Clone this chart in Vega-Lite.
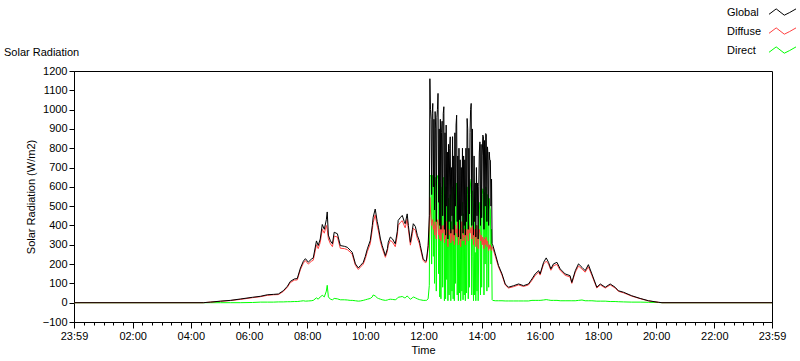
{
  "$schema": "https://vega.github.io/schema/vega-lite/v6.json",
  "width": 698,
  "height": 251,
  "autosize": {"type": "none"},
  "padding": {"left": 74, "top": 71, "right": 28, "bottom": 39},
  "background": "white",
  "config": {
    "font": "Liberation Sans",
    "view": {"stroke": "black", "strokeWidth": 1},
    "axis": {"labelColor": "black", "titleColor": "black", "domainColor": "black", "tickColor": "black", "grid": false, "labelFontSize": 11, "titleFontSize": 11, "titleFontWeight": "normal", "labelFont": "Liberation Sans", "titleFont": "Liberation Sans"}
  },
  "title": {"text": "Solar Radiation", "anchor": "start", "frame": "group", "dx": -70, "offset": 15, "dy": 79, "fontSize": 11, "fontWeight": "normal", "color": "black", "font": "Liberation Sans", "baseline": "alphabetic"},
  "data": {
    "values": [
      {"t": -0.0167, "Global": 0, "Diffuse": 0, "Direct": 0},
      {"t": 4.43, "Global": 0, "Diffuse": 0, "Direct": 0},
      {"t": 4.67, "Global": 3, "Diffuse": 3, "Direct": 0},
      {"t": 5.02, "Global": 8, "Diffuse": 7, "Direct": 0},
      {"t": 5.36, "Global": 12, "Diffuse": 11, "Direct": 0},
      {"t": 5.70, "Global": 19, "Diffuse": 17, "Direct": 0},
      {"t": 6.12, "Global": 28, "Diffuse": 26, "Direct": 1},
      {"t": 6.39, "Global": 33, "Diffuse": 31, "Direct": 3},
      {"t": 6.63, "Global": 41, "Diffuse": 38, "Direct": 3},
      {"t": 6.84, "Global": 43, "Diffuse": 41, "Direct": 3},
      {"t": 7.01, "Global": 45, "Diffuse": 42, "Direct": 4},
      {"t": 7.18, "Global": 62, "Diffuse": 58, "Direct": 4},
      {"t": 7.32, "Global": 85, "Diffuse": 80, "Direct": 5},
      {"t": 7.42, "Global": 110, "Diffuse": 104, "Direct": 5},
      {"t": 7.56, "Global": 123, "Diffuse": 117, "Direct": 6},
      {"t": 7.66, "Global": 125, "Diffuse": 118, "Direct": 6},
      {"t": 7.77, "Global": 180, "Diffuse": 172, "Direct": 8},
      {"t": 7.87, "Global": 215, "Diffuse": 205, "Direct": 10},
      {"t": 7.94, "Global": 228, "Diffuse": 218, "Direct": 8},
      {"t": 8.04, "Global": 210, "Diffuse": 200, "Direct": 9},
      {"t": 8.14, "Global": 225, "Diffuse": 214, "Direct": 10},
      {"t": 8.21, "Global": 232, "Diffuse": 220, "Direct": 12},
      {"t": 8.32, "Global": 320, "Diffuse": 300, "Direct": 25},
      {"t": 8.38, "Global": 296, "Diffuse": 280, "Direct": 18},
      {"t": 8.45, "Global": 330, "Diffuse": 312, "Direct": 30},
      {"t": 8.52, "Global": 405, "Diffuse": 380, "Direct": 38},
      {"t": 8.59, "Global": 380, "Diffuse": 360, "Direct": 30},
      {"t": 8.66, "Global": 430, "Diffuse": 400, "Direct": 60},
      {"t": 8.69, "Global": 470, "Diffuse": 380, "Direct": 90},
      {"t": 8.73, "Global": 350, "Diffuse": 330, "Direct": 30},
      {"t": 8.80, "Global": 320, "Diffuse": 305, "Direct": 18},
      {"t": 8.87, "Global": 305, "Diffuse": 290, "Direct": 15},
      {"t": 8.93, "Global": 365, "Diffuse": 345, "Direct": 22},
      {"t": 9.04, "Global": 357, "Diffuse": 340, "Direct": 20},
      {"t": 9.14, "Global": 296, "Diffuse": 282, "Direct": 15},
      {"t": 9.28, "Global": 292, "Diffuse": 280, "Direct": 15},
      {"t": 9.38, "Global": 287, "Diffuse": 275, "Direct": 14},
      {"t": 9.48, "Global": 272, "Diffuse": 262, "Direct": 12},
      {"t": 9.55, "Global": 261, "Diffuse": 250, "Direct": 12},
      {"t": 9.66, "Global": 201, "Diffuse": 193, "Direct": 10},
      {"t": 9.76, "Global": 180, "Diffuse": 172, "Direct": 8},
      {"t": 9.83, "Global": 192, "Diffuse": 184, "Direct": 9},
      {"t": 9.93, "Global": 209, "Diffuse": 200, "Direct": 12},
      {"t": 10.00, "Global": 240, "Diffuse": 228, "Direct": 15},
      {"t": 10.07, "Global": 279, "Diffuse": 265, "Direct": 18},
      {"t": 10.17, "Global": 322, "Diffuse": 305, "Direct": 22},
      {"t": 10.24, "Global": 400, "Diffuse": 378, "Direct": 30},
      {"t": 10.27, "Global": 443, "Diffuse": 415, "Direct": 40},
      {"t": 10.34, "Global": 485, "Diffuse": 455, "Direct": 35},
      {"t": 10.41, "Global": 420, "Diffuse": 398, "Direct": 25},
      {"t": 10.45, "Global": 391, "Diffuse": 372, "Direct": 22},
      {"t": 10.52, "Global": 330, "Diffuse": 315, "Direct": 18},
      {"t": 10.58, "Global": 296, "Diffuse": 283, "Direct": 15},
      {"t": 10.69, "Global": 244, "Diffuse": 235, "Direct": 12},
      {"t": 10.76, "Global": 280, "Diffuse": 268, "Direct": 14},
      {"t": 10.79, "Global": 313, "Diffuse": 298, "Direct": 16},
      {"t": 10.86, "Global": 340, "Diffuse": 322, "Direct": 18},
      {"t": 10.93, "Global": 331, "Diffuse": 315, "Direct": 17},
      {"t": 11.03, "Global": 305, "Diffuse": 290, "Direct": 15},
      {"t": 11.10, "Global": 370, "Diffuse": 350, "Direct": 22},
      {"t": 11.13, "Global": 426, "Diffuse": 400, "Direct": 28},
      {"t": 11.20, "Global": 440, "Diffuse": 415, "Direct": 30},
      {"t": 11.27, "Global": 452, "Diffuse": 425, "Direct": 32},
      {"t": 11.34, "Global": 420, "Diffuse": 398, "Direct": 26},
      {"t": 11.37, "Global": 409, "Diffuse": 388, "Direct": 25},
      {"t": 11.44, "Global": 460, "Diffuse": 432, "Direct": 35},
      {"t": 11.48, "Global": 400, "Diffuse": 380, "Direct": 28},
      {"t": 11.55, "Global": 313, "Diffuse": 298, "Direct": 18},
      {"t": 11.62, "Global": 380, "Diffuse": 358, "Direct": 25},
      {"t": 11.65, "Global": 409, "Diffuse": 385, "Direct": 30},
      {"t": 11.72, "Global": 395, "Diffuse": 375, "Direct": 25},
      {"t": 11.79, "Global": 348, "Diffuse": 332, "Direct": 20},
      {"t": 11.86, "Global": 320, "Diffuse": 305, "Direct": 16},
      {"t": 11.89, "Global": 296, "Diffuse": 282, "Direct": 15},
      {"t": 11.99, "Global": 227, "Diffuse": 218, "Direct": 12},
      {"t": 12.06, "Global": 215, "Diffuse": 208, "Direct": 12},
      {"t": 12.10, "Global": 218, "Diffuse": 210, "Direct": 12},
      {"t": 12.16, "Global": 296, "Diffuse": 280, "Direct": 20},
      {"t": 12.20, "Global": 450, "Diffuse": 400, "Direct": 90},
      {"t": 12.22, "Global": 1160, "Diffuse": 545, "Direct": 655},
      {"t": 12.24, "Global": 1000, "Diffuse": 480, "Direct": 660},
      {"t": 12.26, "Global": 950, "Diffuse": 440, "Direct": 650},
      {"t": 12.28, "Global": 560, "Diffuse": 400, "Direct": 200},
      {"t": 12.30, "Global": 980, "Diffuse": 420, "Direct": 640},
      {"t": 12.32, "Global": 1032, "Diffuse": 430, "Direct": 660},
      {"t": 12.34, "Global": 600, "Diffuse": 380, "Direct": 240},
      {"t": 12.36, "Global": 950, "Diffuse": 400, "Direct": 620},
      {"t": 12.38, "Global": 480, "Diffuse": 350, "Direct": 100},
      {"t": 12.40, "Global": 990, "Diffuse": 420, "Direct": 650},
      {"t": 12.42, "Global": 900, "Diffuse": 380, "Direct": 600},
      {"t": 12.44, "Global": 420, "Diffuse": 330, "Direct": 60},
      {"t": 12.46, "Global": 960, "Diffuse": 400, "Direct": 640},
      {"t": 12.48, "Global": 1000, "Diffuse": 420, "Direct": 650},
      {"t": 12.50, "Global": 1084, "Diffuse": 430, "Direct": 660},
      {"t": 12.52, "Global": 520, "Diffuse": 350, "Direct": 150},
      {"t": 12.54, "Global": 900, "Diffuse": 380, "Direct": 600},
      {"t": 12.56, "Global": 400, "Diffuse": 330, "Direct": 30},
      {"t": 12.58, "Global": 950, "Diffuse": 420, "Direct": 620},
      {"t": 12.60, "Global": 380, "Diffuse": 320, "Direct": 20},
      {"t": 12.62, "Global": 880, "Diffuse": 380, "Direct": 560},
      {"t": 12.64, "Global": 940, "Diffuse": 400, "Direct": 600},
      {"t": 12.66, "Global": 450, "Diffuse": 360, "Direct": 80},
      {"t": 12.68, "Global": 980, "Diffuse": 380, "Direct": 640},
      {"t": 12.70, "Global": 1015, "Diffuse": 400, "Direct": 650},
      {"t": 12.72, "Global": 380, "Diffuse": 310, "Direct": 10},
      {"t": 12.74, "Global": 880, "Diffuse": 380, "Direct": 560},
      {"t": 12.76, "Global": 350, "Diffuse": 330, "Direct": 20},
      {"t": 12.78, "Global": 920, "Diffuse": 420, "Direct": 600},
      {"t": 12.80, "Global": 500, "Diffuse": 360, "Direct": 120},
      {"t": 12.82, "Global": 780, "Diffuse": 340, "Direct": 500},
      {"t": 12.84, "Global": 330, "Diffuse": 290, "Direct": 10},
      {"t": 12.86, "Global": 820, "Diffuse": 380, "Direct": 540},
      {"t": 12.88, "Global": 420, "Diffuse": 350, "Direct": 40},
      {"t": 12.90, "Global": 800, "Diffuse": 360, "Direct": 520},
      {"t": 12.92, "Global": 859, "Diffuse": 380, "Direct": 560},
      {"t": 12.94, "Global": 360, "Diffuse": 310, "Direct": 10},
      {"t": 12.96, "Global": 700, "Diffuse": 360, "Direct": 420},
      {"t": 12.98, "Global": 450, "Diffuse": 380, "Direct": 60},
      {"t": 13.00, "Global": 860, "Diffuse": 340, "Direct": 600},
      {"t": 13.02, "Global": 380, "Diffuse": 320, "Direct": 20},
      {"t": 13.04, "Global": 760, "Diffuse": 380, "Direct": 460},
      {"t": 13.06, "Global": 350, "Diffuse": 300, "Direct": 10},
      {"t": 13.08, "Global": 880, "Diffuse": 380, "Direct": 560},
      {"t": 13.10, "Global": 500, "Diffuse": 400, "Direct": 100},
      {"t": 13.12, "Global": 920, "Diffuse": 360, "Direct": 600},
      {"t": 13.14, "Global": 971, "Diffuse": 380, "Direct": 620},
      {"t": 13.16, "Global": 420, "Diffuse": 340, "Direct": 40},
      {"t": 13.18, "Global": 760, "Diffuse": 420, "Direct": 420},
      {"t": 13.20, "Global": 340, "Diffuse": 300, "Direct": 10},
      {"t": 13.22, "Global": 800, "Diffuse": 380, "Direct": 500},
      {"t": 13.24, "Global": 430, "Diffuse": 360, "Direct": 50},
      {"t": 13.26, "Global": 740, "Diffuse": 330, "Direct": 480},
      {"t": 13.28, "Global": 330, "Diffuse": 290, "Direct": 10},
      {"t": 13.30, "Global": 700, "Diffuse": 380, "Direct": 380},
      {"t": 13.32, "Global": 450, "Diffuse": 420, "Direct": 60},
      {"t": 13.34, "Global": 800, "Diffuse": 360, "Direct": 520},
      {"t": 13.36, "Global": 360, "Diffuse": 320, "Direct": 15},
      {"t": 13.38, "Global": 760, "Diffuse": 350, "Direct": 460},
      {"t": 13.40, "Global": 400, "Diffuse": 340, "Direct": 40},
      {"t": 13.42, "Global": 740, "Diffuse": 380, "Direct": 420},
      {"t": 13.44, "Global": 350, "Diffuse": 300, "Direct": 10},
      {"t": 13.46, "Global": 800, "Diffuse": 360, "Direct": 500},
      {"t": 13.48, "Global": 420, "Diffuse": 350, "Direct": 50},
      {"t": 13.50, "Global": 954, "Diffuse": 380, "Direct": 600},
      {"t": 13.52, "Global": 900, "Diffuse": 360, "Direct": 560},
      {"t": 13.54, "Global": 380, "Diffuse": 320, "Direct": 20},
      {"t": 13.56, "Global": 800, "Diffuse": 400, "Direct": 480},
      {"t": 13.58, "Global": 460, "Diffuse": 380, "Direct": 80},
      {"t": 13.60, "Global": 880, "Diffuse": 360, "Direct": 560},
      {"t": 13.62, "Global": 1000, "Diffuse": 380, "Direct": 620},
      {"t": 13.64, "Global": 1032, "Diffuse": 390, "Direct": 640},
      {"t": 13.66, "Global": 400, "Diffuse": 330, "Direct": 40},
      {"t": 13.68, "Global": 900, "Diffuse": 360, "Direct": 580},
      {"t": 13.70, "Global": 620, "Diffuse": 400, "Direct": 240},
      {"t": 13.72, "Global": 350, "Diffuse": 300, "Direct": 10},
      {"t": 13.74, "Global": 760, "Diffuse": 380, "Direct": 440},
      {"t": 13.76, "Global": 420, "Diffuse": 340, "Direct": 40},
      {"t": 13.78, "Global": 620, "Diffuse": 380, "Direct": 260},
      {"t": 13.80, "Global": 340, "Diffuse": 290, "Direct": 10},
      {"t": 13.82, "Global": 700, "Diffuse": 360, "Direct": 400},
      {"t": 13.84, "Global": 450, "Diffuse": 400, "Direct": 60},
      {"t": 13.86, "Global": 620, "Diffuse": 340, "Direct": 340},
      {"t": 13.88, "Global": 330, "Diffuse": 280, "Direct": 10},
      {"t": 13.90, "Global": 600, "Diffuse": 360, "Direct": 300},
      {"t": 13.92, "Global": 780, "Diffuse": 380, "Direct": 480},
      {"t": 13.94, "Global": 833, "Diffuse": 360, "Direct": 520},
      {"t": 13.96, "Global": 400, "Diffuse": 320, "Direct": 40},
      {"t": 13.98, "Global": 820, "Diffuse": 350, "Direct": 520},
      {"t": 14.00, "Global": 440, "Diffuse": 330, "Direct": 80},
      {"t": 14.02, "Global": 760, "Diffuse": 300, "Direct": 560},
      {"t": 14.04, "Global": 868, "Diffuse": 340, "Direct": 590},
      {"t": 14.06, "Global": 860, "Diffuse": 320, "Direct": 580},
      {"t": 14.08, "Global": 380, "Diffuse": 280, "Direct": 40},
      {"t": 14.10, "Global": 840, "Diffuse": 330, "Direct": 570},
      {"t": 14.12, "Global": 500, "Diffuse": 300, "Direct": 200},
      {"t": 14.14, "Global": 876, "Diffuse": 340, "Direct": 600},
      {"t": 14.16, "Global": 870, "Diffuse": 330, "Direct": 590},
      {"t": 14.18, "Global": 420, "Diffuse": 290, "Direct": 60},
      {"t": 14.20, "Global": 807, "Diffuse": 320, "Direct": 560},
      {"t": 14.22, "Global": 760, "Diffuse": 300, "Direct": 520},
      {"t": 14.24, "Global": 400, "Diffuse": 270, "Direct": 80},
      {"t": 14.26, "Global": 780, "Diffuse": 300, "Direct": 540},
      {"t": 14.28, "Global": 740, "Diffuse": 280, "Direct": 500},
      {"t": 14.30, "Global": 738, "Diffuse": 300, "Direct": 480},
      {"t": 14.32, "Global": 500, "Diffuse": 280, "Direct": 200},
      {"t": 14.34, "Global": 640, "Diffuse": 270, "Direct": 380},
      {"t": 14.36, "Global": 305, "Diffuse": 290, "Direct": 15},
      {"t": 14.38, "Global": 300, "Diffuse": 285, "Direct": 12},
      {"t": 14.47, "Global": 253, "Diffuse": 240, "Direct": 10},
      {"t": 14.58, "Global": 192, "Diffuse": 185, "Direct": 10},
      {"t": 14.70, "Global": 149, "Diffuse": 142, "Direct": 10},
      {"t": 14.81, "Global": 97, "Diffuse": 92, "Direct": 9},
      {"t": 14.92, "Global": 80, "Diffuse": 76, "Direct": 9},
      {"t": 15.10, "Global": 88, "Diffuse": 83, "Direct": 9},
      {"t": 15.27, "Global": 97, "Diffuse": 92, "Direct": 9},
      {"t": 15.44, "Global": 88, "Diffuse": 84, "Direct": 9},
      {"t": 15.61, "Global": 97, "Diffuse": 92, "Direct": 9},
      {"t": 15.73, "Global": 123, "Diffuse": 116, "Direct": 12},
      {"t": 15.84, "Global": 149, "Diffuse": 141, "Direct": 12},
      {"t": 15.96, "Global": 166, "Diffuse": 158, "Direct": 12},
      {"t": 16.01, "Global": 149, "Diffuse": 143, "Direct": 12},
      {"t": 16.13, "Global": 209, "Diffuse": 200, "Direct": 14},
      {"t": 16.22, "Global": 232, "Diffuse": 215, "Direct": 16},
      {"t": 16.30, "Global": 209, "Diffuse": 200, "Direct": 14},
      {"t": 16.38, "Global": 175, "Diffuse": 168, "Direct": 12},
      {"t": 16.47, "Global": 201, "Diffuse": 192, "Direct": 12},
      {"t": 16.59, "Global": 209, "Diffuse": 198, "Direct": 12},
      {"t": 16.70, "Global": 175, "Diffuse": 167, "Direct": 10},
      {"t": 16.87, "Global": 149, "Diffuse": 142, "Direct": 10},
      {"t": 17.04, "Global": 140, "Diffuse": 133, "Direct": 10},
      {"t": 17.10, "Global": 105, "Diffuse": 100, "Direct": 10},
      {"t": 17.22, "Global": 166, "Diffuse": 158, "Direct": 10},
      {"t": 17.33, "Global": 201, "Diffuse": 190, "Direct": 12},
      {"t": 17.45, "Global": 183, "Diffuse": 174, "Direct": 14},
      {"t": 17.56, "Global": 166, "Diffuse": 158, "Direct": 10},
      {"t": 17.67, "Global": 197, "Diffuse": 186, "Direct": 10},
      {"t": 17.79, "Global": 149, "Diffuse": 141, "Direct": 10},
      {"t": 17.96, "Global": 80, "Diffuse": 76, "Direct": 8},
      {"t": 18.08, "Global": 97, "Diffuse": 92, "Direct": 8},
      {"t": 18.25, "Global": 80, "Diffuse": 76, "Direct": 8},
      {"t": 18.42, "Global": 97, "Diffuse": 92, "Direct": 6},
      {"t": 18.59, "Global": 80, "Diffuse": 76, "Direct": 6},
      {"t": 18.70, "Global": 62, "Diffuse": 59, "Direct": 5},
      {"t": 18.88, "Global": 54, "Diffuse": 51, "Direct": 4},
      {"t": 19.16, "Global": 36, "Diffuse": 34, "Direct": 3},
      {"t": 19.45, "Global": 22, "Diffuse": 21, "Direct": 3},
      {"t": 19.74, "Global": 10, "Diffuse": 9, "Direct": 2},
      {"t": 20.08, "Global": 2, "Diffuse": 2, "Direct": 1},
      {"t": 20.20, "Global": 0, "Diffuse": 0, "Direct": 0},
      {"t": 23.9833, "Global": 0, "Diffuse": 0, "Direct": 0}
    ]
  },
  "transform": [
    {"fold": ["Global", "Diffuse", "Direct"], "as": ["series", "value"]}
  ],
  "encoding": {
    "x": {
      "field": "t", "type": "quantitative",
      "scale": {"domain": [-0.0167, 23.9833], "nice": false, "zero": false},
      "axis": {
        "title": "Time",
        "titlePadding": 3,
        "values": [-0.0167, 0.3333, 0.6667, 1, 1.3333, 1.6667, 2, 2.3333, 2.6667, 3, 3.3333, 3.6667, 4, 4.3333, 4.6667, 5, 5.3333, 5.6667, 6, 6.3333, 6.6667, 7, 7.3333, 7.6667, 8, 8.3333, 8.6667, 9, 9.3333, 9.6667, 10, 10.3333, 10.6667, 11, 11.3333, 11.6667, 12, 12.3333, 12.6667, 13, 13.3333, 13.6667, 14, 14.3333, 14.6667, 15, 15.3333, 15.6667, 16, 16.3333, 16.6667, 17, 17.3333, 17.6667, 18, 18.3333, 18.6667, 19, 19.3333, 19.6667, 20, 20.3333, 20.6667, 21, 21.3333, 21.6667, 22, 22.3333, 22.6667, 23, 23.3333, 23.6667, 23.9833],
        "labelExpr": "datum.value < 0 || datum.value > 23.9 ? '23:59' : (abs(datum.value / 2 - round(datum.value / 2)) < 0.001 ? (datum.value < 10 ? '0' : '') + round(datum.value) + ':00' : '')",
        "tickSize": {"condition": {"test": "datum.value < 0 || datum.value > 23.9 || abs(datum.value / 2 - round(datum.value / 2)) < 0.001", "value": 6}, "value": 3},
        "labelOverlap": false,
        "labelFlush": false,
        "labelPadding": 2
      }
    },
    "y": {
      "field": "value", "type": "quantitative",
      "scale": {"domain": [-100, 1200], "nice": false, "zero": false},
      "axis": {
        "title": "Solar Radiation (W/m2)",
        "format": "d",
        "values": [-100, 0, 100, 200, 300, 400, 500, 600, 700, 800, 900, 1000, 1100, 1200],
        "tickSize": 5,
        "labelPadding": 2,
        "titlePadding": 6,
        "labelFlush": false,
        "labelOverlap": false
      }
    },
    "color": {
      "field": "series", "type": "nominal",
      "scale": {"domain": ["Global", "Diffuse", "Direct"], "range": ["#000000", "#ff4040", "#00ff00"]},
      "legend": {
        "title": null,
        "orient": "none",
        "legendX": 652,
        "legendY": -68,
        "symbolType": "M-1.5,0.2L-0.7,-0.4L0.2,0.3L0.8,0L1.5,-0.4",
        "symbolSize": 324,
        "symbolStrokeWidth": 1,
        "symbolFillColor": "transparent",
        "symbolOffset": 47,
        "labelOffset": -65,
        "labelFontSize": 11,
        "labelColor": "black",
        "labelFont": "Liberation Sans",
        "rowPadding": 4
      }
    }
  },
  "layer": [
    {"transform": [{"filter": "datum.series === 'Direct'"}], "mark": {"type": "line", "strokeWidth": 1}},
    {"transform": [{"filter": "datum.series === 'Diffuse'"}], "mark": {"type": "line", "strokeWidth": 1}},
    {"transform": [{"filter": "datum.series === 'Global'"}], "mark": {"type": "line", "strokeWidth": 1}}
  ]
}
